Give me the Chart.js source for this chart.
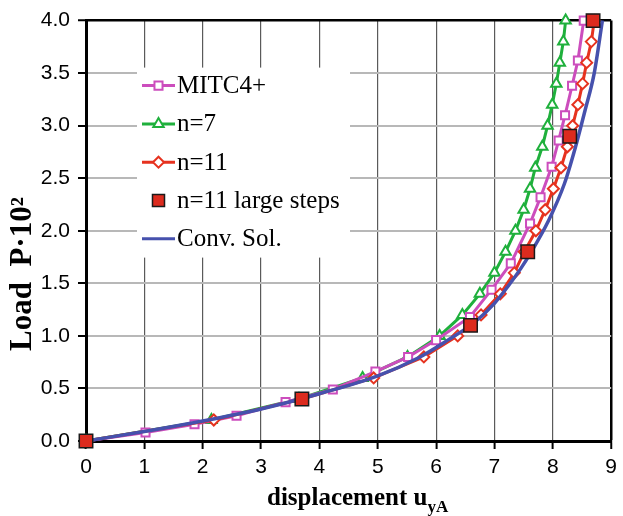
<!DOCTYPE html>
<html>
<head>
<meta charset="utf-8">
<script src="https://cdn.jsdelivr.net/npm/chart.js@4.4.0/dist/chart.umd.min.js"></script>
<style>
  html, body { margin: 0; padding: 0; background: #fff; }
</style>
</head>
<body>
<canvas id="loadChart" width="623" height="516"></canvas>
<script>
// series values (x = displacement u_yA, y = load P*10^2)
var seriesNames = ["MITC4+", "n=7", "n=11", "n=11 large steps", "Conv. Sol."];

var mitcX = [0, 1.02, 1.86, 2.58, 3.42, 4.23, 4.96, 5.52, 6.00, 6.58, 6.95, 7.28, 7.61, 7.79, 7.98, 8.10, 8.21, 8.33, 8.43, 8.53];
var mitcY = [0, 0.08, 0.16, 0.24, 0.37, 0.49, 0.66, 0.80, 0.96, 1.18, 1.44, 1.69, 2.07, 2.32, 2.61, 2.86, 3.10, 3.38, 3.62, 4.00];

var n7X = [0, 2.15, 3.65, 4.74, 5.51, 6.06, 6.45, 6.75, 7.00, 7.19, 7.36, 7.50, 7.61, 7.70, 7.82, 7.91, 7.99, 8.06, 8.12, 8.18, 8.22];
var n7Y = [0, 0.2, 0.4, 0.6, 0.8, 1.0, 1.2, 1.4, 1.6, 1.8, 2.0, 2.2, 2.4, 2.6, 2.8, 3.0, 3.2, 3.4, 3.6, 3.8, 4.0];

var n11X = [0, 2.19, 3.70, 4.93, 5.79, 6.37, 6.77, 7.10, 7.34, 7.51, 7.71, 7.87, 8.01, 8.14, 8.25, 8.34, 8.43, 8.51, 8.58, 8.66, 8.71];
var n11Y = [0, 0.2, 0.4, 0.6, 0.8, 1.0, 1.2, 1.4, 1.6, 1.8, 2.0, 2.2, 2.4, 2.6, 2.8, 3.0, 3.2, 3.4, 3.6, 3.8, 4.0];

var bigX = [0, 3.70, 6.59, 7.57, 8.29, 8.69];
var bigY = [0, 0.4, 1.1, 1.8, 2.9, 4.0];

var convX = [0, 1, 2, 3, 4, 5, 5.69, 6.20, 6.66, 7.00, 7.23, 7.45, 7.60, 7.93, 8.20, 8.39, 8.55, 8.71, 8.85];
var convY = [0, 0.09, 0.19, 0.305, 0.45, 0.62, 0.79, 0.96, 1.13, 1.31, 1.47, 1.64, 1.77, 2.10, 2.45, 2.80, 3.14, 3.50, 4.00];

var xMin = 0, xMax = 9, xStep = 1;
var yMin = 0, yMax = 4, yStep = 0.5;

function pairs(xs, ys) {
  return xs.map(function (x, i) { return { x: x, y: ys[i] }; });
}

var magenta = "#cc4dbd";
var green = "#1fb03c";
var red = "#e6321f";
var blue = "#4651ad";

// axis titles with sub/superscripts
var axisTitles = {
  id: "axisTitles",
  afterDraw: function (chart) {
    var c = chart.ctx, ca = chart.chartArea;
    c.save();
    c.fillStyle = "#000";
    c.textBaseline = "alphabetic";
    c.textAlign = "left";
    var main = "displacement u", sub = "yA";
    c.font = 'bold 25px "Liberation Serif"';
    var wMain = c.measureText(main).width;
    c.font = 'bold 17px "Liberation Serif"';
    var wSub = c.measureText(sub).width;
    var cx = (ca.left + ca.right) / 2 + 9;
    var x0 = cx - (wMain + wSub) / 2;
    var base = ca.bottom + 64;
    c.font = 'bold 25px "Liberation Serif"';
    c.fillText(main, x0, base);
    c.font = 'bold 17px "Liberation Serif"';
    c.fillText(sub, x0 + wMain, base + 7);

    c.translate(23, 274);
    c.rotate(-Math.PI / 2);
    c.textAlign = "center";
    c.textBaseline = "middle";
    c.font = 'bold 31px "Liberation Serif"';
    c.fillText("Load  P\u00b710\u00b2", 0, 0);
    c.restore();
  }
};

// legend box drawn inside the plot, over the grid
var innerLegend = {
  id: "innerLegend",
  beforeDatasetsDraw: function (chart) {
    var c = chart.ctx, ca = chart.chartArea;
    var left = ca.left + 51, top = ca.top + 47;
    c.save();
    c.fillStyle = "#fff";
    c.fillRect(left, top, 213, 190);
    chart.data.datasets.forEach(function (ds, i) {
      var y = top + 18 + i * 38.3;
      var mx = left + 21.5;
      if (ds.legendLine !== false) {
        c.strokeStyle = ds.borderColor;
        c.lineWidth = 3;
        c.beginPath();
        c.moveTo(left + 5, y);
        c.lineTo(left + 38, y);
        c.stroke();
      }
      if (ds.pointRadius > 0) {
        c.fillStyle = ds.pointBackgroundColor;
        c.strokeStyle = ds.pointBorderColor;
        c.lineWidth = ds.pointBorderWidth;
        Chart.helpers.drawPoint(c, {
          pointStyle: ds.pointStyle,
          rotation: 0,
          radius: ds.legendRadius || ds.pointRadius,
          borderWidth: ds.pointBorderWidth
        }, mx, y);
      }
      c.fillStyle = "#000";
      c.font = '25px "Liberation Serif"';
      c.textBaseline = "middle";
      c.textAlign = "left";
      c.fillText(ds.label, left + 40, y + 1);
    });
    c.restore();
  }
};

var ctx = document.getElementById("loadChart").getContext("2d");
var loadChart = new Chart(ctx, {
  type: "scatter",
  data: {
    datasets: [
      {
        label: seriesNames[0],
        data: pairs(mitcX, mitcY),
        showLine: true,
        borderColor: magenta,
        borderWidth: 3,
        pointStyle: "rect",
        pointRadius: 5.7,
        pointBackgroundColor: "#fff",
        pointBorderColor: magenta,
        pointBorderWidth: 2,
        clip: false,
        order: 3
      },
      {
        label: seriesNames[1],
        data: pairs(n7X, n7Y),
        showLine: true,
        borderColor: green,
        borderWidth: 3,
        pointStyle: "triangle",
        pointRadius: 6,
        pointBackgroundColor: "#fff",
        pointBorderColor: green,
        pointBorderWidth: 2,
        clip: false,
        order: 4
      },
      {
        label: seriesNames[2],
        data: pairs(n11X, n11Y),
        showLine: true,
        borderColor: red,
        borderWidth: 3,
        pointStyle: "rectRot",
        pointRadius: 5.5,
        pointBackgroundColor: "#fff",
        pointBorderColor: red,
        pointBorderWidth: 2,
        clip: false,
        order: 2
      },
      {
        label: seriesNames[3],
        data: pairs(bigX, bigY),
        showLine: false,
        legendLine: false,
        legendRadius: 8.5,
        borderColor: "#000",
        pointStyle: "rect",
        pointRadius: 9.5,
        pointBackgroundColor: "#dc2b1e",
        pointBorderColor: "#1a1a1a",
        pointBorderWidth: 1.5,
        clip: false,
        order: 0
      },
      {
        label: seriesNames[4],
        data: pairs(convX, convY),
        showLine: true,
        borderColor: blue,
        borderWidth: 3.5,
        pointRadius: 0,
        tension: 0.35,
        cubicInterpolationMode: "monotone",
        clip: false,
        order: 1
      }
    ]
  },
  options: {
    responsive: false,
    animation: false,
    events: [],
    layout: { padding: { left: 0, right: 9, top: 20, bottom: 0 } },
    plugins: {
      legend: { display: false },
      tooltip: { enabled: false }
    },
    scales: {
      x: {
        type: "linear",
        min: xMin,
        max: xMax,
        afterFit: function (s) { s.height = 75; },
        ticks: {
          stepSize: xStep,
          color: "#000",
          padding: 6,
          font: { family: '"Liberation Sans", Arial', size: 21 }
        },
        grid: {
          color: function (c) { return c.tick && c.tick.value === xMax ? "#000" : "#5a5a5a"; },
          lineWidth: function (c) { return c.tick && c.tick.value === xMax ? 2.5 : 1.2; },
          tickColor: "#000",
          tickWidth: 2,
          tickLength: 8
        },
        border: { color: "#000", width: 3 }
      },
      y: {
        type: "linear",
        min: yMin,
        max: yMax,
        afterFit: function (s) { s.width = 86; },
        ticks: {
          stepSize: yStep,
          color: "#000",
          padding: 8,
          font: { family: '"Liberation Sans", Arial', size: 21 },
          callback: function (v) { return v.toFixed(1); }
        },
        grid: {
          color: function (c) { return c.tick && c.tick.value === yMax ? "#000" : "#b8b8b8"; },
          lineWidth: function (c) { return c.tick && c.tick.value === yMax ? 2.5 : 2; },
          tickColor: "#000",
          tickWidth: 2,
          tickLength: 8
        },
        border: { color: "#000", width: 3 }
      }
    }
  },
  plugins: [innerLegend, axisTitles]
});
</script>
</body>
</html>
